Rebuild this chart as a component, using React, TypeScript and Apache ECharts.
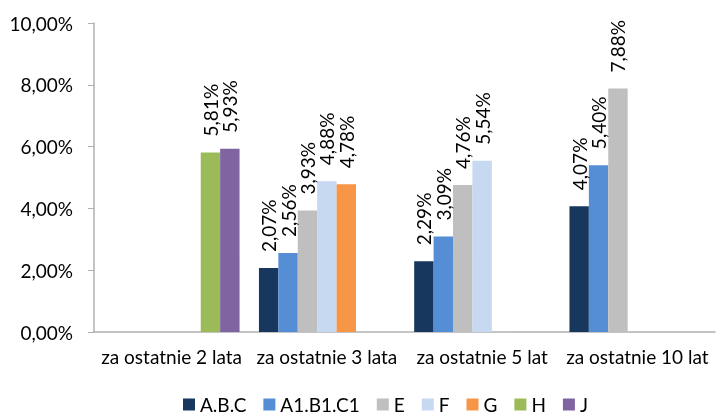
import React, { useEffect, useRef } from "react";
import * as echarts from "echarts";

const categories = ["za ostatnie 2 lata", "za ostatnie 3 lata", "za ostatnie 5 lat", "za ostatnie 10 lat"];
const seriesNames = ["A.B.C", "A1.B1.C1", "E", "F", "G", "H", "J"];
const seriesColors = ["#17375E", "#558ED5", "#BFBFBF", "#C6D9F1", "#F79646", "#9BBB59", "#8064A2"];
const abc = [null, 2.07, 2.29, 4.07];
const a1b1c1 = [null, 2.56, 3.09, 5.4];
const e = [null, 3.93, 4.76, 7.88];
const f = [null, 4.88, 5.54, null];
const g = [null, 4.78, null, null];
const h = [5.81, null, null, null];
const j = [5.93, null, null, null];
const seriesValues = [abc, a1b1c1, e, f, g, h, j];
const yTicks = { min: 0, max: 10, interval: 2 };

const FONT = "Lato";
const FS = 19;
const fmt = (v: number) => v.toFixed(2).replace(".", ",") + "%";

export default function App() {
  const ref = useRef<HTMLDivElement>(null);
  useEffect(() => {
    if (!ref.current) return;
    const chart = echarts.init(ref.current, null, { renderer: "svg" });
    chart.setOption({
      animation: false,
      textStyle: { fontFamily: FONT },
      grid: { left: 94, right: 1, top: 23, bottom: 84, containLabel: false },
      legend: {
        bottom: -3,
        left: 178,
        itemWidth: 12,
        itemHeight: 12,
        itemGap: 17,
        icon: "rect",
        textStyle: { fontFamily: FONT, fontSize: FS, color: "#000" },
        data: seriesNames,
      },
      xAxis: {
        type: "category",
        data: categories,
        axisLine: { lineStyle: { color: "#B0B0B0", width: 1.5 } },
        axisTick: { show: false },
        axisLabel: { interval: 0, fontFamily: FONT, fontSize: FS, color: "#000", margin: 15 },
      },
      yAxis: {
        type: "value",
        min: yTicks.min,
        max: yTicks.max,
        interval: yTicks.interval,
        splitLine: { show: false },
        axisLine: { show: true, lineStyle: { color: "#B0B0B0", width: 1.5 } },
        axisTick: { show: true, length: 6, lineStyle: { color: "#B0B0B0" } },
        axisLabel: { fontFamily: FONT, fontSize: FS, color: "#000", margin: 21, formatter: (v: number) => fmt(v) },
      },
      series: seriesNames.map((name, i) => ({
        name,
        type: "bar",
        data: seriesValues[i],
        barGap: "0%",
        barCategoryGap: "12.5%",
        itemStyle: { color: seriesColors[i] },
        label: {
          show: true,
          position: "top",
          rotate: 90,
          align: "left",
          verticalAlign: "middle",
          distance: 16,
          fontFamily: FONT,
          fontSize: FS,
          color: "#000",
          formatter: (p: any) => (p.value == null ? "" : fmt(p.value)),
        },
      })),
    });
    return () => chart.dispose();
  }, []);
  return <div ref={ref} style={{ position: "fixed", left: 0, top: 0, width: 716, height: 416 }} />;
}
